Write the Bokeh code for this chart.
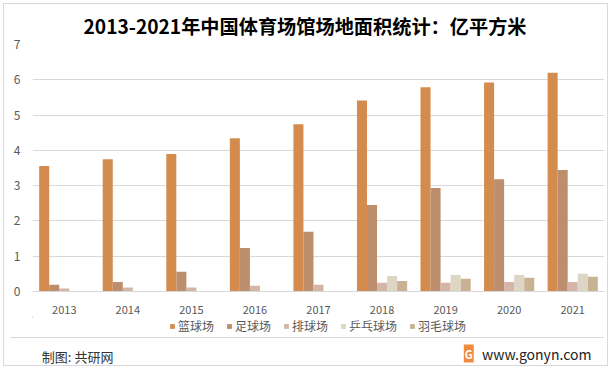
from bokeh.plotting import figure
from bokeh.layouts import column
from bokeh.models import ColumnDataSource, Legend, LegendItem, Label, Range1d
from bokeh.transform import dodge
from bokeh.embed import file_html
from bokeh.resources import INLINE

years = ["2013", "2014", "2015", "2016", "2017", "2018", "2019", "2020", "2021"]
series_names = ["篮球场", "足球场", "排球场", "乒乓球场", "羽毛球场"]
basketball = [3.56, 3.75, 3.90, 4.34, 4.74, 5.41, 5.79, 5.92, 6.20]
football = [0.19, 0.27, 0.56, 1.23, 1.69, 2.45, 2.93, 3.18, 3.44]
volleyball = [0.085, 0.11, 0.11, 0.16, 0.19, 0.25, 0.25, 0.27, 0.27]
pingpong = [0, 0, 0, 0, 0, 0.44, 0.47, 0.47, 0.50]
badminton = [0, 0, 0, 0, 0, 0.30, 0.36, 0.39, 0.42]
y_ticks = [0, 1, 2, 3, 4, 5, 6, 7]

title_text = "2013-2021年中国体育场馆场地面积统计：亿平方米"
footer_left = "制图: 共研网"
footer_right = "www.gonyn.com"

colors = ["#D48C4E", "#BC8E6C", "#D5B5A8", "#DED6C4", "#C9B294"]
FONT = "Noto Sans CJK SC"

src = ColumnDataSource(dict(year=years, s0=basketball, s1=football, s2=volleyball,
                            s3=pingpong, s4=badminton))

# ---------- main chart ----------
p = figure(width=611, height=316, x_range=years, y_range=(0, 7),
           output_backend="svg", toolbar_location=None,
           min_border_left=32, min_border_right=7, min_border_top=44, min_border_bottom=25)
p.outline_line_color = None
p.background_fill_alpha = 0
p.border_fill_alpha = 0

bw = 0.158
offsets = [-2 * bw, -bw, 0, bw, 2 * bw]
for i in range(5):
    p.vbar(x=dodge("year", offsets[i], range=p.x_range), top="s%d" % i, width=bw,
           source=src, fill_color=colors[i], line_color=None)

p.title.text = title_text
p.title.align = "left"
p.title.offset = 51
p.title.text_font = FONT
p.title.text_font_size = "19.2px"
p.title.text_font_style = "bold"
p.title.text_color = "#000000"

p.xgrid.grid_line_color = None
p.ygrid.grid_line_color = "#D9D9D9"
p.ygrid.grid_line_width = 1
p.yaxis.ticker = y_ticks
p.yaxis.axis_line_color = None
p.yaxis.major_tick_line_color = None
p.yaxis.minor_tick_line_color = None
p.yaxis.major_label_text_font = FONT
p.yaxis.major_label_text_font_size = "12px"
p.yaxis.major_label_text_color = "#595959"
p.yaxis.major_label_standoff = 6

p.xaxis.axis_line_color = "#D9D9D9"
p.xaxis.major_tick_line_color = None
p.xaxis.minor_tick_line_color = None
p.xaxis.major_label_text_font = FONT
p.xaxis.major_label_text_font_size = "11px"
p.xaxis.major_label_text_color = "#595959"
p.xaxis.major_label_standoff = 8
p.x_range.range_padding = 0

# ---------- legend + footer ----------
f = figure(width=611, height=53, x_range=Range1d(0, 611), y_range=Range1d(53, 0),
           output_backend="svg", toolbar_location=None,
           x_axis_type=None, y_axis_type=None,
           min_border_left=0, min_border_right=0, min_border_top=0, min_border_bottom=0)
f.outline_line_color = None
f.xgrid.grid_line_color = None
f.ygrid.grid_line_color = None
f.background_fill_alpha = 0
f.border_fill_alpha = 0

# legend swatches (placed outside the visible range; only their legend glyphs show)
swatch = ColumnDataSource(dict(x=[-1000], top=[1]))
items = []
for i in range(5):
    r = f.vbar(x="x", top="top", width=1, source=swatch, fill_color=colors[i], line_color=None)
    items.append(LegendItem(label=series_names[i], renderers=[r]))

legend = Legend(items=items, orientation="horizontal", location=(137, 35),
                label_text_font=FONT, label_text_font_size="12px", label_text_color="#595959",
                glyph_width=6, glyph_height=6, label_standoff=3, spacing=12,
                label_height=14, border_line_color=None, background_fill_alpha=0,
                padding=0, margin=0)
f.add_layout(legend, "center")

f.add_layout(Label(x=10, y=40, text=footer_left,
                   text_font=FONT, text_font_size="13px", text_color="#333333",
                   text_baseline="middle", text_align="left"))
f.add_layout(Label(x=597, y=37, text=footer_right,
                   text_font=FONT, text_font_size="14px", text_color="#222222",
                   text_baseline="middle", text_align="right"))
f.add_layout(Label(x=466, y=37, text="G",
                   text_font=FONT, text_font_size="11px", text_color="white",
                   text_font_style="bold", background_fill_color="#F08A3C",
                   text_baseline="middle", text_align="center", padding=1))

# page frame: outer thin border and the separator line above the footer
layout = column(p, f, spacing=0, width=611, height=369,
                styles={"background-color": "white",
                        "background-image": "linear-gradient(#D9D9D9, #D9D9D9)",
                        "background-size": "594px 1px",
                        "background-position": "10px 337px",
                        "background-repeat": "no-repeat",
                        "box-shadow": "inset 0 0 0 3px #FFFFFF, inset 0 0 0 4px #D9D9D9"})
open("out.html", "w").write(file_html(layout, INLINE))
